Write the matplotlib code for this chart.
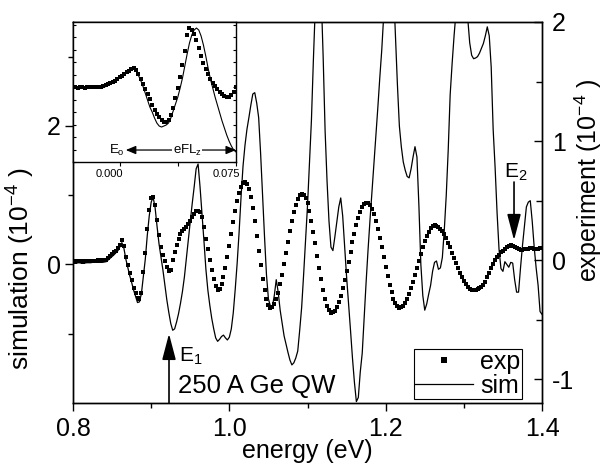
import numpy as np
import matplotlib
matplotlib.use("Agg")
import matplotlib.pyplot as plt
import matplotlib.transforms as mtransforms
from matplotlib.ticker import FixedLocator, MultipleLocator, FormatStrFormatter

plt.rcParams["font.family"] = ["Liberation Sans", "DejaVu Sans"]
plt.rcParams["mathtext.fontset"] = "custom"
plt.rcParams["mathtext.rm"] = "Liberation Sans"
plt.rcParams["mathtext.it"] = "Liberation Sans"
plt.rcParams["axes.unicode_minus"] = False

# main data, energy grid 0.8 - 1.4 eV, step 0.0025
energy = np.linspace(0.8, 1.4, 241)

exp_main = [
    -0.010, -0.012, -0.010, -0.008, -0.010, -0.012, -0.010, -0.008, -0.008, -0.006,
    -0.006, -0.004, -0.004, -0.002, -0.004, -0.002, 0.000, 0.005, 0.020, 0.035,
    0.050, 0.065, 0.080, 0.100, 0.130, 0.165, 0.120, 0.030, -0.040, -0.110,
    -0.170, -0.230, -0.280, -0.320, -0.330, -0.280, -0.100, 0.060, 0.260, 0.420,
    0.520, 0.530, 0.460, 0.340, 0.210, 0.110, 0.040, -0.010, -0.060, -0.090,
    -0.080, 0.000, 0.070, 0.130, 0.180, 0.220, 0.245, 0.265, 0.280, 0.300,
    0.330, 0.360, 0.390, 0.410, 0.415, 0.400, 0.360, 0.280, 0.180, 0.090,
    0.000, -0.080, -0.160, -0.220, -0.255, -0.240, -0.197, -0.138, -0.063, 0.025,
    0.120, 0.220, 0.318, 0.412, 0.494, 0.563, 0.615, 0.647, 0.658, 0.643,
    0.599, 0.529, 0.437, 0.326, 0.204, 0.078, -0.043, -0.157, -0.254, -0.329,
    -0.379, -0.400, -0.394, -0.370, -0.329, -0.272, -0.203, -0.121, -0.033, 0.060,
    0.154, 0.245, 0.329, 0.404, 0.467, 0.514, 0.545, 0.556, 0.551, 0.524,
    0.476, 0.412, 0.332, 0.239, 0.141, 0.037, -0.065, -0.161, -0.249, -0.323,
    -0.382, -0.421, -0.440, -0.439, -0.424, -0.395, -0.354, -0.301, -0.238, -0.167,
    -0.091, -0.012, 0.069, 0.148, 0.223, 0.293, 0.353, 0.404, 0.443, 0.469,
    0.482, 0.480, 0.464, 0.432, 0.387, 0.329, 0.262, 0.187, 0.108, 0.025,
    -0.057, -0.135, -0.208, -0.271, -0.323, -0.363, -0.389, -0.400, -0.397, -0.383,
    -0.359, -0.327, -0.286, -0.237, -0.184, -0.126, -0.066, -0.006, 0.053, 0.108,
    0.159, 0.203, 0.239, 0.267, 0.284, 0.291, 0.290, 0.281, 0.265, 0.243,
    0.216, 0.183, 0.146, 0.107, 0.064, 0.021, -0.022, -0.065, -0.104, -0.141,
    -0.174, -0.201, -0.223, -0.239, -0.248, -0.250, -0.248, -0.243, -0.235, -0.222,
    -0.205, -0.180, -0.145, -0.105, -0.065, -0.030, 0.000, 0.025, 0.045, 0.065,
    0.080, 0.095, 0.110, 0.120, 0.125, 0.120, 0.110, 0.100, 0.090, 0.085,
    0.088, 0.092, 0.095, 0.097, 0.098, 0.098, 0.097, 0.096, 0.097, 0.098, 0.098,
]

sim_main = [
    0.02, 0.02, 0.02, 0.025, 0.02, 0.02, 0.02, 0.025, 0.025, 0.025,
    0.03, 0.03, 0.03, 0.03, 0.03, 0.03, 0.035, 0.04, 0.065, 0.09,
    0.115, 0.14, 0.17, 0.20, 0.255, 0.315, 0.24, 0.08, -0.04, -0.16,
    -0.26, -0.37, -0.46, -0.55, -0.54, -0.42, -0.17, 0.08, 0.42, 0.70,
    0.90, 0.97, 0.82, 0.55, 0.30, 0.11, -0.08, -0.30, -0.51, -0.69,
    -0.85, -0.95, -0.93, -0.83, -0.71, -0.56, -0.39, -0.18, 0.09, 0.36,
    0.62, 0.88, 1.12, 1.38, 1.45, 1.12, 0.74, 0.34, -0.07, -0.37,
    -0.59, -0.78, -0.93, -1.06, -1.11, -1.08, -1.04, -1.02, -1.06, -1.09,
    -1.05, -0.93, -0.70, -0.36, 0.02, 0.47, 0.98, 1.42, 1.72, 1.95,
    2.12, 2.30, 2.46, 2.48, 2.33, 2.12, 1.60, 1.00, 0.40, -0.15,
    -0.50, -0.60, -0.61, -0.45, -0.22, -0.40, -0.66, -0.85, -1.03, -1.15,
    -1.27, -1.38, -1.45, -1.42, -1.35, -1.25, -0.95, -0.62, -0.15, 0.35,
    0.85, 1.45, 2.08, 2.95, 3.75, 4.40, 4.40, 3.90, 3.00, 1.93,
    1.20, 0.62, 0.25, 0.20, 0.40, 0.62, 0.83, 0.96, 0.70, 0.25,
    -0.18, -0.56, -0.95, -1.35, -1.70, -1.98, -1.92, -1.55, -1.28, -0.75,
    -0.25, 0.22, 0.65, 1.05, 1.45, 1.85, 2.27, 2.70, 3.10, 3.60,
    4.20, 4.60, 4.70, 4.50, 4.00, 3.30, 2.60, 2.00, 1.70, 1.48,
    1.36, 1.27, 1.25, 1.38, 1.55, 1.70, 1.55, 0.85, 0.00, -0.45,
    -0.66, -0.57, -0.43, -0.30, -0.10, 0.03, 0.05, -0.07, -0.05, 0.10,
    0.50, 1.00, 1.65, 2.45, 2.90, 3.30, 3.65, 4.00, 4.30, 4.40,
    4.30, 4.00, 3.55, 3.20, 3.02, 2.97, 2.98, 3.00, 3.05, 3.12,
    3.19, 3.30, 3.43, 3.30, 2.85, 1.95, 1.40, 0.75, 0.22, -0.06,
    -0.10, 0.04, 0.00, -0.04, 0.03, 0.02, -0.22, -0.40, -0.40, -0.05,
    0.27, 0.55, 0.83, 0.90, 0.92, 0.62, 0.25, -0.05, -0.30, -0.68, -0.72,
]

# inset data, E - Eo from -0.03 to 0.075 eV, step 0.0015
inset_x = np.linspace(-0.03, 0.075, 71)

inset_exp = [
    0.000, 0.000, -0.005, 0.000, 0.000, -0.005, 0.000, 0.000, 0.000, 0.000,
    0.000, 0.000, 0.005, 0.010, 0.020, 0.030, 0.040, 0.050, 0.065, 0.080,
    0.100, 0.115, 0.130, 0.150, 0.165, 0.180, 0.190, 0.170, 0.130, 0.080,
    0.030, -0.020, -0.070, -0.120, -0.180, -0.230, -0.270, -0.300, -0.330, -0.345,
    -0.350, -0.330, -0.280, -0.210, -0.110, -0.010, 0.100, 0.220, 0.360, 0.520,
    0.590, 0.570, 0.530, 0.470, 0.390, 0.310, 0.240, 0.180, 0.130, 0.080,
    0.040, 0.010, -0.020, -0.050, -0.070, -0.090, -0.100, -0.100, -0.080, -0.050, 0.000,
]

inset_sim = [
    0.000, 0.000, 0.000, 0.000, 0.000, 0.000, 0.000, 0.000, 0.000, -0.005,
    -0.010, -0.010, -0.010, -0.005, 0.005, 0.020, 0.030, 0.045, 0.060, 0.075,
    0.095, 0.110, 0.130, 0.150, 0.165, 0.180, 0.190, 0.165, 0.120, 0.070,
    0.010, -0.060, -0.130, -0.200, -0.250, -0.310, -0.360, -0.390, -0.400, -0.390,
    -0.380, -0.360, -0.310, -0.240, -0.170, -0.100, -0.010, 0.090, 0.210, 0.330,
    0.440, 0.520, 0.570, 0.590, 0.570, 0.510, 0.420, 0.310, 0.190, 0.080,
    -0.010, -0.100, -0.180, -0.260, -0.340, -0.410, -0.480, -0.540, -0.590, -0.630, -0.650,
]

fig = plt.figure(figsize=(6.06, 4.68), dpi=100)
ax = fig.add_axes([0.1205, 0.1389, 0.7739, 0.8141])
ax2 = ax.twinx()

sim_line, = ax.plot(energy, sim_main, color="black", lw=0.9, label="sim")
exp_pts, = ax2.plot(energy, exp_main, "s", color="black", ms=3.2, mew=0, label="exp")

ax.set_xlim(0.8, 1.4)
ax.set_ylim(-2, 3.5)
ax2.set_ylim(-1.2, 2)

ax.xaxis.set_major_locator(MultipleLocator(0.2))
ax.xaxis.set_minor_locator(MultipleLocator(0.1))
ax.yaxis.set_major_locator(FixedLocator([0, 2]))
ax.yaxis.set_minor_locator(FixedLocator([-1, 1, 3]))
ax2.yaxis.set_major_locator(FixedLocator([-1, 0, 1, 2]))
ax2.yaxis.set_minor_locator(FixedLocator([-0.5, 0.5, 1.5]))

ax.tick_params(which="both", direction="out", top=False, right=False, labelsize=18, pad=3, width=1)
ax.tick_params(axis="x", pad=4)
ax.tick_params(which="major", length=6)
ax.tick_params(which="minor", length=3.5)
ax2.tick_params(which="both", direction="in", labelsize=18, pad=7, width=1)
ax2.tick_params(which="major", length=6)
ax2.tick_params(which="minor", length=4)
for a in (ax, ax2):
    for s in a.spines.values():
        s.set_linewidth(1.0)

ax.set_xlabel("energy (eV)", fontsize=18)
ax.set_ylabel("simulation (10$^{-4}$ )", fontsize=19)
ax2.set_ylabel("experiment (10$^{-4}$ )", fontsize=18)
ax.xaxis.set_label_coords(0.5, -0.095)
ax.yaxis.set_label_coords(-0.076, 0.354)
ax2.yaxis.set_label_coords(1.066, 0.585)

# arrows and labels
arrow_kw = dict(arrowstyle="-|>,head_length=1.6,head_width=0.42", color="black",
                lw=1.2, mutation_scale=10, shrinkA=0, shrinkB=0)
ax.annotate("", xy=(0.9228, -1.0), xytext=(0.9228, -2.0), arrowprops=arrow_kw)
ax.text(0.9356, -1.408, "E$_1$", fontsize=15, ha="left", va="baseline")
ax.annotate("", xy=(1.3642, 0.35), xytext=(1.3642, 1.19), arrowprops=arrow_kw)
ax.text(1.3667, 1.247, "E$_2$", fontsize=15, ha="center", va="baseline")
ax.text(0.9343, -1.856, "250 A Ge QW", fontsize=18.5, ha="left", va="baseline")

leg = ax.legend([exp_pts, sim_line], ["exp", "sim"], loc="lower right",
                bbox_to_anchor=(0.957, 0.01), borderaxespad=0, fontsize=18,
                frameon=True, fancybox=False, edgecolor="black", framealpha=1,
                handlelength=2.3, handletextpad=0.3, labelspacing=0.0,
                borderpad=0.05, markerscale=1.3, numpoints=1)
leg.get_frame().set_linewidth(0.8)

# inset
axin = fig.add_axes([0.1205, 0.6538, 0.269, 0.2991])
axin.set_facecolor("white")
axin.plot(inset_x, inset_sim, color="black", lw=0.8)
axin.plot(inset_x, inset_exp, "s", color="black", ms=2.4, mew=0)
axin.set_xlim(-0.03, 0.075)
axin.set_ylim(-0.75, 0.65)
axin.xaxis.set_major_locator(FixedLocator([0.0, 0.075]))
axin.xaxis.set_minor_locator(FixedLocator([0.0375]))
axin.xaxis.set_major_formatter(FormatStrFormatter("%.3f"))
axin.yaxis.set_major_locator(MultipleLocator(0.125))
axin.tick_params(axis="x", which="both", direction="out", length=3, labelsize=8, pad=2, width=0.8)
axin.tick_params(axis="y", which="both", direction="in", length=2.5, left=True, right=True,
                 labelleft=False, width=0.8)
for s in axin.spines.values():
    s.set_linewidth(1.0)
shift = mtransforms.ScaledTranslation(-0.1, 0, fig.dpi_scale_trans)
for lbl in axin.get_xticklabels():
    lbl.set_transform(lbl.get_transform() + shift)

axin.annotate("", xy=(0.004, -0.63), xytext=(0.075, -0.63),
              arrowprops=dict(arrowstyle="<|-|>,head_length=0.6,head_width=0.25",
                              color="black", lw=0.9, mutation_scale=10,
                              shrinkA=0, shrinkB=0), annotation_clip=False)
axin.text(0.0435, -0.63, "eFL$_z$", fontsize=9.5, ha="center", va="center",
          bbox=dict(facecolor="white", edgecolor="none", pad=0.5))
axin.text(0.0035, -0.63, "E$_o$", fontsize=9.5, ha="right", va="center",
          bbox=dict(facecolor="white", edgecolor="none", pad=0.3))

fig.savefig("out.png", dpi=100)
